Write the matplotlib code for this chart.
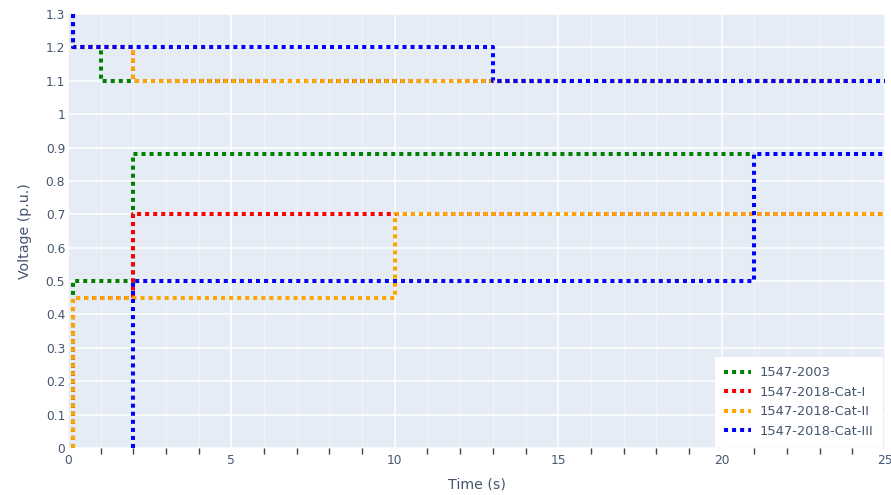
import matplotlib
matplotlib.use("Agg")
import matplotlib.pyplot as plt
import numpy as np
from matplotlib.ticker import FuncFormatter, MultipleLocator

plt.rcParams['font.family'] = ['DejaVu Sans']

# ---- data ----
series_names = ["1547-2003", "1547-2018-Cat-I", "1547-2018-Cat-II", "1547-2018-Cat-III"]
series_colors = ["green", "red", "orange", "blue"]

t_2003_low = [0.16, 0.16, 2, 2, 21]
v_2003_low = [0, 0.5, 0.5, 0.88, 0.88]
t_2003_high = [0.16, 0.16, 1, 1, 25]
v_2003_high = [1.3, 1.2, 1.2, 1.1, 1.1]

t_cat1_low = [0.16, 0.16, 2, 2, 25]
v_cat1_low = [0, 0.45, 0.45, 0.7, 0.7]
t_cat1_high = [0.16, 0.16, 2, 2, 25]
v_cat1_high = [1.3, 1.2, 1.2, 1.1, 1.1]

t_cat2_low = [0.16, 0.16, 10, 10, 25]
v_cat2_low = [0, 0.45, 0.45, 0.7, 0.7]
t_cat2_high = [0.16, 0.16, 2, 2, 25]
v_cat2_high = [1.3, 1.2, 1.2, 1.1, 1.1]

t_cat3_low = [2, 2, 21, 21, 25]
v_cat3_low = [0, 0.5, 0.5, 0.88, 0.88]
t_cat3_high = [0.16, 0.16, 13, 13, 25]
v_cat3_high = [1.3, 1.2, 1.2, 1.1, 1.1]

series = [
    (t_2003_low, v_2003_low, t_2003_high, v_2003_high),
    (t_cat1_low, v_cat1_low, t_cat1_high, v_cat1_high),
    (t_cat2_low, v_cat2_low, t_cat2_high, v_cat2_high),
    (t_cat3_low, v_cat3_low, t_cat3_high, v_cat3_high),
]

x_label = "Time (s)"
y_label = "Voltage (p.u.)"

# ---- figure ----
W, H = 891, 495
fig = plt.figure(figsize=(W / 100, H / 100), dpi=100)
L, R, T, B = 68, 885, 14, 448
ax = fig.add_axes([L / W, (H - B) / H, (R - L) / W, (B - T) / H])
ax.set_facecolor("#E5ECF6")
for s in ax.spines.values():
    s.set_visible(False)

lw = 2.9
for name, col, (tl, vl, th, vh) in zip(series_names, series_colors, series):
    t = list(tl) + [np.nan] + list(th)
    v = list(vl) + [np.nan] + list(vh)
    ax.plot(t, v, color=col, lw=lw, linestyle=(0, (1, 1)), dash_capstyle='butt',
            solid_capstyle='butt', label=name, clip_on=False, zorder=3)

ax.set_xlim(0, 25)
ax.set_ylim(0, 1.3)
ax.xaxis.set_major_locator(MultipleLocator(5))
ax.xaxis.set_minor_locator(MultipleLocator(1))
ax.yaxis.set_major_locator(MultipleLocator(0.1))
fmt = FuncFormatter(lambda x, p: f"{round(x, 2):g}")
ax.xaxis.set_major_formatter(fmt)
ax.yaxis.set_major_formatter(fmt)

tc = "#46566f"
ax.tick_params(axis='both', which='major', length=0, labelsize=8.8, labelcolor=tc)
ax.tick_params(axis='x', which='major', pad=4)
ax.tick_params(axis='y', which='major', pad=2)
ax.tick_params(axis='x', which='minor', length=4, width=1, color="#444444", direction='out')
ax.tick_params(axis='y', which='minor', length=0)

ax.grid(which='major', color='white', lw=1.1, zorder=0)
ax.grid(which='minor', axis='x', color='white', lw=0.8, alpha=0.4, zorder=0)
ax.set_axisbelow(True)

ax.set_xlabel(x_label, fontsize=10.2, color=tc, labelpad=8)
ax.set_ylabel(y_label, fontsize=10.2, color=tc, labelpad=10)

leg = ax.legend(loc='lower right', bbox_to_anchor=(0.997, 0.002), borderaxespad=0,
                frameon=True, fancybox=False, facecolor='white', edgecolor='none',
                framealpha=1, fontsize=9.4, handlelength=2.1, handletextpad=0.65,
                labelspacing=0.5, borderpad=0.7)
for txt in leg.get_texts():
    txt.set_color(tc)
leg.set_zorder(5)

fig.savefig("out.png", dpi=100, facecolor='white')
